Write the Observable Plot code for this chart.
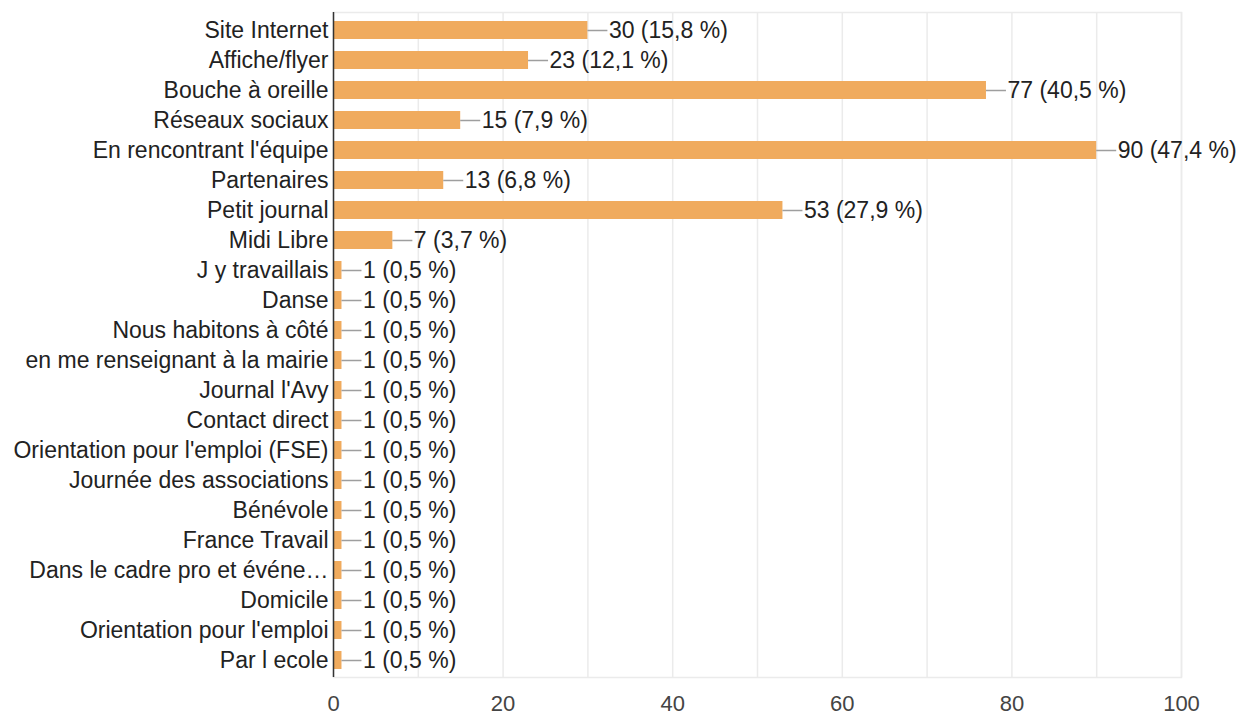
<!DOCTYPE html>
<html>
<head>
<meta charset="utf-8">
<script src="https://cdn.jsdelivr.net/npm/d3@7"></script>
<script src="https://cdn.jsdelivr.net/npm/@observablehq/plot@0.6"></script>
<style>
  html, body { margin: 0; padding: 0; background: #fff; }
  #chart svg { display: block; }
</style>
</head>
<body>
<div id="chart"></div>
<script>
const categories = [
  "Site Internet",
  "Affiche/flyer",
  "Bouche à oreille",
  "Réseaux sociaux",
  "En rencontrant l'équipe",
  "Partenaires",
  "Petit journal",
  "Midi Libre",
  "J y travaillais",
  "Danse",
  "Nous habitons à côté",
  "en me renseignant à la mairie",
  "Journal l'Avy",
  "Contact direct",
  "Orientation pour l'emploi (FSE)",
  "Journée des associations",
  "Bénévole",
  "France Travail",
  "Dans le cadre pro et événe…",
  "Domicile",
  "Orientation pour l'emploi",
  "Par l ecole"
];
const counts = [30, 23, 77, 15, 90, 13, 53, 7, 1, 1, 1, 1, 1, 1, 1, 1, 1, 1, 1, 1, 1, 1];
const percents = ["15,8", "12,1", "40,5", "7,9", "47,4", "6,8", "27,9", "3,7",
  "0,5", "0,5", "0,5", "0,5", "0,5", "0,5", "0,5", "0,5", "0,5", "0,5", "0,5", "0,5", "0,5", "0,5"];
const xTicks = [0, 20, 40, 60, 80, 100];
const gridTicks = [10, 20, 30, 40, 50, 60, 70, 80, 90, 100];

const data = categories.map((c, i) => ({label: c, value: counts[i], pct: percents[i]}));

const FONT = "'Liberation Sans', Arial, sans-serif";

const chart = Plot.plot({
  width: 1245,
  height: 715,
  marginLeft: 333,
  marginRight: 64,
  marginTop: 12,
  marginBottom: 38,
  style: {fontFamily: FONT, fontSize: "23px", background: "#fff"},
  x: {domain: [0, 100]},
  y: {domain: categories, paddingInner: 0.4, paddingOuter: 0.2},
  marks: [
    Plot.gridX(gridTicks, {stroke: "#ebebeb", strokeOpacity: 1, strokeWidth: 1.5}),
    Plot.frame({stroke: "#ebebeb", strokeWidth: 1.5}),
    Plot.barX(data, {y: "label", x: "value", fill: "#F0AB5E"}),
    Plot.ruleY(data, {
      y: "label", x1: "value", x2: "value", stroke: "#9e9e9e", strokeWidth: 1.5,
      render: (index, scales, values, dims, ctx, next) => {
        const g = next(index, scales, values, dims, ctx);
        d3.select(g).selectAll("line").attr("x2", function() {
          return +this.getAttribute("x1") + 20;
        });
        return g;
      }
    }),
    Plot.text(data, {
      y: "label", x: "value", dx: 21, textAnchor: "start",
      text: d => `${d.value} (${d.pct} %)`,
      fill: "#222", fontSize: 23
    }),
    Plot.ruleX([0], {stroke: "#333", strokeWidth: 1.5}),
    Plot.axisY({tickSize: 0, tickPadding: 5, label: null, fontSize: 23, fill: "#222", textAnchor: "end"}),
    Plot.axisX(xTicks, {tickSize: 0, tickPadding: 18, label: null, fontSize: 22, fill: "#444"})
  ]
});
document.getElementById("chart").appendChild(chart);
</script>
</body>
</html>
